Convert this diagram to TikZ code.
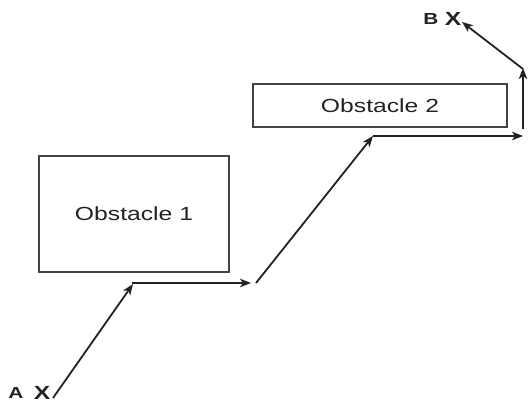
\documentclass[tikz,border=0pt]{standalone}
\usepackage{fontspec}
\setmainfont{Liberation Sans}
\usetikzlibrary{arrows.meta}
\definecolor{ink}{HTML}{222222}
\tikzset{
  obst/.style={draw=ink!85, line width=2pt, inner sep=0pt, text=ink},
  path arrow/.style={draw=ink, line width=1.8pt, -{Stealth[length=11pt,width=8.5pt,inset=3pt]}},
  ptlabel/.style={text=ink, inner sep=0pt},
  lblfont/.style={font=\fontsize{16}{16}\selectfont\bfseries},
  xfont/.style={font=\fontsize{19}{19}\selectfont\bfseries},
}
\newcommand{\wide}[1]{\scalebox{1.3}[1]{#1}}
\begin{document}
\begin{tikzpicture}[x=1pt,y=-1pt]
\useasboundingbox (0,0) rectangle (528,403);
% obstacles
\node[obst, minimum width=190pt, minimum height=116pt] (obs1) at (134,214)
  {\fontsize{19}{19}\selectfont\wide{Obstacle 1}};
\node[obst, minimum width=254pt, minimum height=43pt] (obs2) at (380,105.5)
  {\fontsize{19}{19}\selectfont\wide{Obstacle 2}};
% labels
\node[ptlabel, lblfont] (lblA) at (16,393) {\wide{A}};
\node[ptlabel, xfont] (lblAX) at (42,393) {\wide{X}};
\node[ptlabel, lblfont] (lblB) at (431,19) {\wide{B}};
\node[ptlabel, xfont] (lblBX) at (453,19) {\wide{X}};
% path points
\coordinate (p0) at (53,398);
\coordinate (p1) at (133,284);
\coordinate (h1s) at (132,283);
\coordinate (h1e) at (251,283);
\coordinate (d2s) at (256,283);
\coordinate (d2e) at (373,136);
\coordinate (h2s) at (373,136);
\coordinate (h2e) at (523,136);
\coordinate (v1s) at (523,129);
\coordinate (v1e) at (523,68);
\coordinate (d3s) at (523,69);
\coordinate (d3e) at (462,22);
% connectors
\draw[path arrow] (p0) -- (p1);
\draw[path arrow] (h1s) -- (h1e);
\draw[path arrow] (d2s) -- (d2e);
\draw[path arrow] (h2s) -- (h2e);
\draw[path arrow] (v1s) -- (v1e);
\draw[path arrow] (d3s) -- (d3e);
\end{tikzpicture}
\end{document}
